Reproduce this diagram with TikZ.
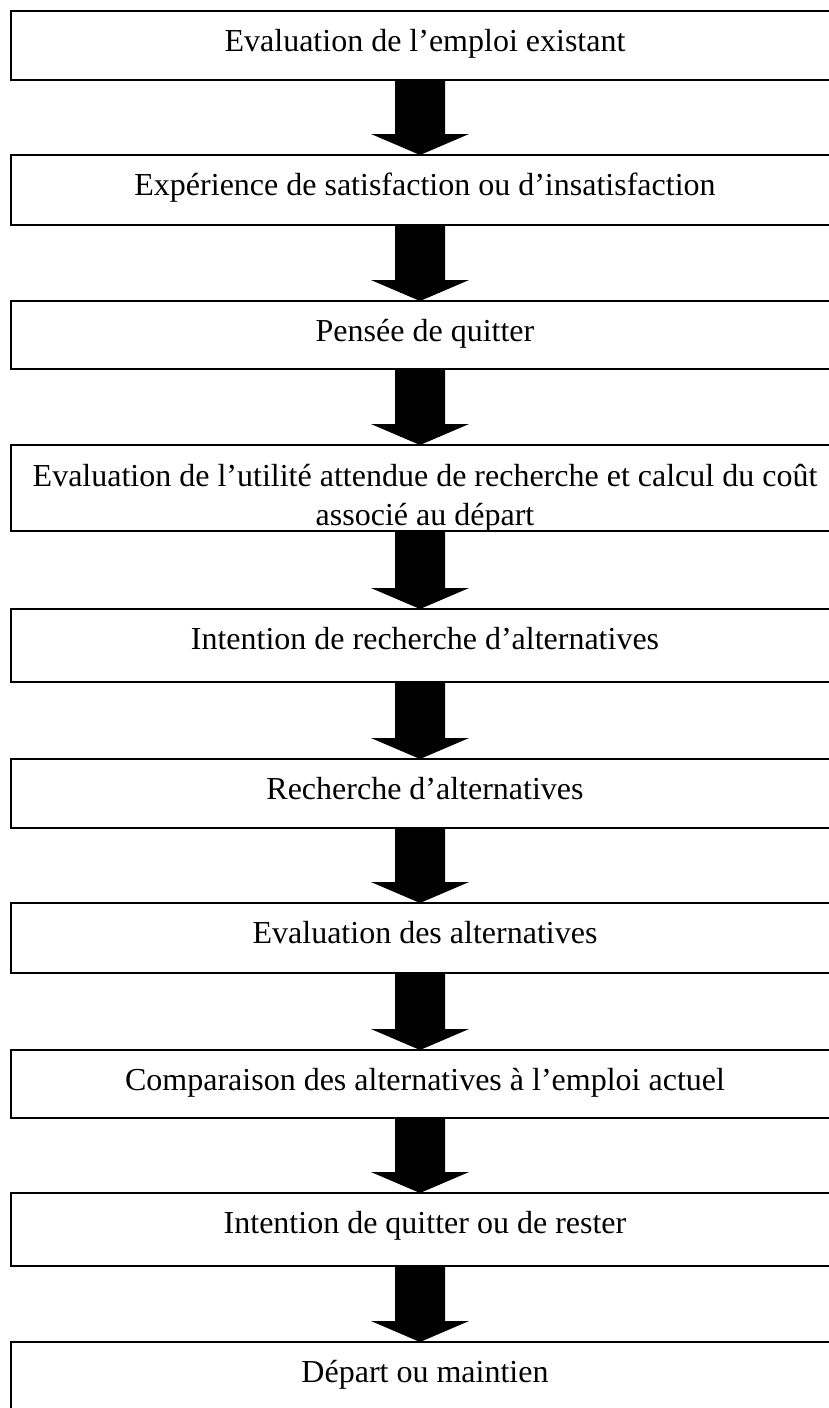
\documentclass[tikz,border=0pt]{standalone}
\usepackage{fontspec}
\setmainfont{Liberation Serif}
\usetikzlibrary{calc}
\tikzset{
  box/.style={draw=black, line width=1.3pt, fill=white, inner sep=0pt, outer sep=0pt,
              anchor=north west, minimum width=413.5pt},
  lbl/.style={anchor=base, inner sep=0pt, font=\fontsize{16pt}{17.5pt}\selectfont},
  bigarrow/.style={fill=black}
}
\newcommand\flowarrow[2]{%
  \fill[bigarrow] ($(ax|-#1.south)+(-25,0)$) -- ($(ax|-#2.north)+(-25,-21)$)
    -- ($(ax|-#2.north)+(-49,-21)$) -- (ax|-#2.north)
    -- ($(ax|-#2.north)+(49,-21)$) -- ($(ax|-#2.north)+(25,-21)$)
    -- ($(ax|-#1.south)+(25,0)$) -- cycle;}
\begin{document}
\begin{tikzpicture}[x=0.5pt,y=-0.5pt]
\useasboundingbox (0,0) rectangle (829,1408);
\clip (0,0) rectangle (829,1408);
\fill[white] (0,0) rectangle (829,1408);
\coordinate (ax) at (420,0);
% boxes (top y, height in pt = px/2)
\node[box, minimum height=34.5pt] (b1)  at (11,11)   {};
\node[box, minimum height=35pt]   (b2)  at (11,155)  {};
\node[box, minimum height=34pt]   (b3)  at (11,301)  {};
\node[box, minimum height=43pt]   (b4)  at (11,445)  {};
\node[box, minimum height=36.5pt] (b5)  at (11,609)  {};
\node[box, minimum height=34.5pt] (b6)  at (11,759)  {};
\node[box, minimum height=35pt]   (b7)  at (11,903)  {};
\node[box, minimum height=34pt]   (b8)  at (11,1050) {};
\node[box, minimum height=36.5pt] (b9)  at (11,1193) {};
\node[box, minimum height=35pt]   (b10) at (11,1342) {};
% texts
\node[lbl] (t1)  at (425,51)   {Evaluation de l’emploi existant};
\node[lbl] (t2)  at (425,195)  {Expérience de satisfaction ou d’insatisfaction};
\node[lbl] (t3)  at (425,341)  {Pensée de quitter};
\begin{scope}
  \clip (b4.north west) rectangle (b4.south east);
  \node[lbl] (t4a) at (425,486) {Evaluation de l’utilité attendue de recherche et calcul du coût};
  \node[lbl] (t4b) at (425,525) {associé au départ};
\end{scope}
\draw[line width=1.3pt] (b4.south west) -- (b4.south east);
\node[lbl] (t5)  at (425,649)  {Intention de recherche d’alternatives};
\node[lbl] (t6)  at (425,799)  {Recherche d’alternatives};
\node[lbl] (t7)  at (425,943)  {Evaluation des alternatives};
\node[lbl] (t8)  at (425,1090) {Comparaison des alternatives à l’emploi actuel};
\node[lbl] (t9)  at (425,1233) {Intention de quitter ou de rester};
\node[lbl] (t10) at (425,1382) {Départ ou maintien};
% arrows
\flowarrow{b1}{b2}
\flowarrow{b2}{b3}
\flowarrow{b3}{b4}
\flowarrow{b4}{b5}
\flowarrow{b5}{b6}
\flowarrow{b6}{b7}
\flowarrow{b7}{b8}
\flowarrow{b8}{b9}
\flowarrow{b9}{b10}
\end{tikzpicture}
\end{document}
